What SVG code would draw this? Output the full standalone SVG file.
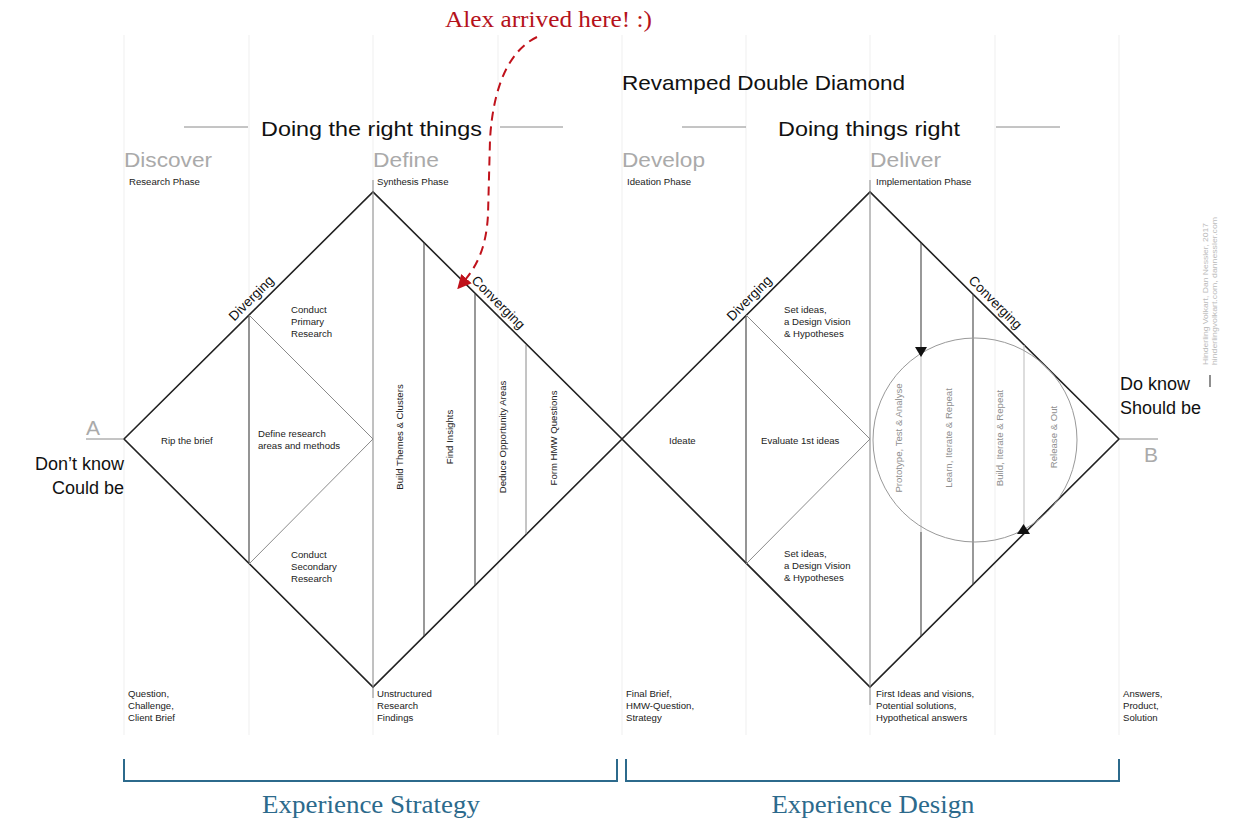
<svg xmlns="http://www.w3.org/2000/svg" width="1246" height="825" viewBox="0 0 1246 825">
<defs>
<style>
.grid{stroke:#efefef;stroke-width:1;fill:none}
.edge{stroke:#222;stroke-width:1.6;fill:none}
.ln{stroke:#444;stroke-width:1.1;fill:none}
.lt{stroke:#8a8a8a;stroke-width:1;fill:none}
.lg{stroke:#bbb;stroke-width:1;fill:none}
.hd{font-family:"Liberation Sans",Arial,sans-serif;font-size:21px;fill:#aaa}
.big{font-family:"Liberation Sans",Arial,sans-serif;font-size:21px;fill:#111}
.mid{font-family:"Liberation Sans",Arial,sans-serif;font-size:18px;fill:#111}
.sm{font-family:"Liberation Sans",Arial,sans-serif;font-size:9.6px;fill:#222}
.smg{font-family:"Liberation Sans",Arial,sans-serif;font-size:9.6px;fill:#8f8f8f}
.dg{font-family:"Liberation Sans",Arial,sans-serif;font-size:13.5px;fill:#111}
.cr{font-family:"Liberation Sans",Arial,sans-serif;font-size:6.5px;fill:#bbb}
.serifR{font-family:"Liberation Serif","Times New Roman",serif;font-size:24px;fill:#b5121b}
.serifB{font-family:"Liberation Serif","Times New Roman",serif;font-size:25px;fill:#2c6a8c}
.br{stroke:#2c6a8c;stroke-width:2;fill:none}
</style>
<marker id="redArrow" viewBox="0 0 10 10" refX="7" refY="5" markerWidth="7" markerHeight="7" orient="auto" markerUnits="strokeWidth">
<path d="M0,0 L10,5 L0,10 z" fill="#c0121b"/>
</marker>
</defs>
<rect width="1246" height="825" fill="#fff"/>

<g id="grid">
<line class="grid" x1="124" y1="35" x2="124" y2="735"/>
<line class="grid" x1="249" y1="35" x2="249" y2="735"/>
<line class="grid" x1="373" y1="35" x2="373" y2="735"/>
<line class="grid" x1="498" y1="35" x2="498" y2="735"/>
<line class="grid" x1="622" y1="35" x2="622" y2="735"/>
<line class="grid" x1="746" y1="35" x2="746" y2="735"/>
<line class="grid" x1="870" y1="35" x2="870" y2="735"/>
<line class="grid" x1="995" y1="35" x2="995" y2="735"/>
<line class="grid" x1="1119" y1="35" x2="1119" y2="735"/>
</g>

<g id="titles">
<text class="serifR" x="445" y="27" textLength="207" lengthAdjust="spacingAndGlyphs">Alex arrived here! :)</text>
<text class="big" x="622" y="90" textLength="283" lengthAdjust="spacingAndGlyphs">Revamped Double Diamond</text>
<line class="lt" x1="184" y1="127" x2="248" y2="127"/>
<line class="lt" x1="500" y1="127" x2="563" y2="127"/>
<text class="big" x="261" y="136" textLength="221" lengthAdjust="spacingAndGlyphs">Doing the right things</text>
<line class="lt" x1="682" y1="127" x2="746" y2="127"/>
<line class="lt" x1="996" y1="127" x2="1060" y2="127"/>
<text class="big" x="778" y="136" textLength="182" lengthAdjust="spacingAndGlyphs">Doing things right</text>
</g>

<g id="phases">
<text class="hd" x="124" y="167" textLength="88" lengthAdjust="spacingAndGlyphs">Discover</text>
<text class="sm" x="129" y="185">Research Phase</text>
<text class="hd" x="373" y="167" textLength="66" lengthAdjust="spacingAndGlyphs">Define</text>
<text class="sm" x="377" y="185">Synthesis Phase</text>
<text class="hd" x="622" y="167" textLength="83" lengthAdjust="spacingAndGlyphs">Develop</text>
<text class="sm" x="627" y="185">Ideation Phase</text>
<text class="hd" x="870" y="167" textLength="71" lengthAdjust="spacingAndGlyphs">Deliver</text>
<text class="sm" x="876" y="185">Implementation Phase</text>
</g>

<g id="diamond-1">
<polygon class="edge" points="124,439 373,192 622,439 373,687"/>
<line class="lt" x1="86" y1="439" x2="124" y2="439"/>
<line class="ln" x1="249" y1="315" x2="249" y2="564"/>
<polyline class="lt" points="249,315 373,439 249,564"/>
<line class="lt" x1="373" y1="180" x2="373" y2="698"/>
<line class="ln" x1="424" y1="243" x2="424" y2="636"/>
<line class="ln" x1="475" y1="294" x2="475" y2="585"/>
<line class="lt" x1="526" y1="345" x2="526" y2="534"/>
<text class="dg" transform="translate(258,305) rotate(-45)" y="-5" text-anchor="middle">Diverging</text>
<text class="dg" transform="translate(491,310) rotate(45)" y="-6" text-anchor="middle">Converging</text>
<text class="sm" x="291" y="313">Conduct</text>
<text class="sm" x="291" y="325">Primary</text>
<text class="sm" x="291" y="337">Research</text>
<text class="sm" x="161" y="444">Rip the brief</text>
<text class="sm" x="258" y="437">Define research</text>
<text class="sm" x="258" y="449">areas and methods</text>
<text class="sm" x="291" y="558">Conduct</text>
<text class="sm" x="291" y="570">Secondary</text>
<text class="sm" x="291" y="582">Research</text>
<text class="sm" transform="translate(403,437) rotate(-90)" text-anchor="middle">Build Themes &amp; Clusters</text>
<text class="sm" transform="translate(453,437) rotate(-90)" text-anchor="middle">Find Insights</text>
<text class="sm" transform="translate(506,437) rotate(-90)" text-anchor="middle">Deduce Opportunity Areas</text>
<text class="sm" transform="translate(557,438) rotate(-90)" text-anchor="middle">Form HMW Questions</text>
</g>

<g id="diamond-2">
<polygon class="edge" points="622,439 870,192 1119,439 870,687"/>
<line class="lt" x1="1119" y1="439" x2="1158" y2="439"/>
<line class="ln" x1="746" y1="315" x2="746" y2="564"/>
<polyline class="lt" points="746,315 870,439 746,564"/>
<line class="lt" x1="870" y1="180" x2="870" y2="705"/>
<line class="ln" x1="921" y1="243" x2="921" y2="352"/>
<line class="lg" x1="921" y1="352" x2="921" y2="532"/>
<line class="ln" x1="921" y1="532" x2="921" y2="636"/>
<line class="ln" x1="973" y1="294" x2="973" y2="585"/>
<line class="lg" x1="1024" y1="345" x2="1024" y2="534"/>
<circle cx="975" cy="440" r="102" fill="none" stroke="#999" stroke-width="1"/>
<polygon points="915,347 927,347 921,357" fill="#111"/>
<polygon points="1017,534 1030,534 1023.5,524" fill="#111"/>
<text class="dg" transform="translate(756,305) rotate(-45)" y="-5" text-anchor="middle">Diverging</text>
<text class="dg" transform="translate(988,310) rotate(45)" y="-6" text-anchor="middle">Converging</text>
<text class="sm" x="669" y="444">Ideate</text>
<text class="sm" x="761" y="444">Evaluate 1st ideas</text>
<text class="sm" x="784" y="313">Set ideas,</text>
<text class="sm" x="784" y="325">a Design Vision</text>
<text class="sm" x="784" y="337">&amp; Hypotheses</text>
<text class="sm" x="784" y="557">Set ideas,</text>
<text class="sm" x="784" y="569">a Design Vision</text>
<text class="sm" x="784" y="581">&amp; Hypotheses</text>
<text class="smg" transform="translate(902,438) rotate(-90)" text-anchor="middle">Prototype, Test &amp; Analyse</text>
<text class="smg" transform="translate(952,438) rotate(-90)" text-anchor="middle">Learn, Iterate &amp; Repeat</text>
<text class="smg" transform="translate(1003,438) rotate(-90)" text-anchor="middle">Build, Iterate &amp; Repeat</text>
<text class="smg" transform="translate(1057,437) rotate(-90)" text-anchor="middle">Release &amp; Out</text>
</g>

<g id="endpoints">
<text class="hd" x="86" y="435">A</text>
<text class="mid" x="124" y="470" text-anchor="end">Don’t know</text>
<text class="mid" x="124" y="494" text-anchor="end">Could be</text>
<text class="hd" x="1144" y="462">B</text>
<text class="mid" x="1120" y="390">Do know</text>
<text class="mid" x="1120" y="414">Should be</text>
<line x1="1210" y1="375" x2="1210" y2="387" stroke="#444" stroke-width="1.2"/>
<text class="cr" transform="translate(1208,365) rotate(-90)" textLength="142" lengthAdjust="spacingAndGlyphs">Hinderling Volkart, Dan Nessler, 2017</text>
<text class="cr" transform="translate(1217,365) rotate(-90)" textLength="148" lengthAdjust="spacingAndGlyphs">hinderlingvolkart.com, dannessler.com</text>
</g>

<g id="outputs">
<text class="sm" x="128" y="697">Question,</text>
<text class="sm" x="128" y="709">Challenge,</text>
<text class="sm" x="128" y="721">Client Brief</text>
<text class="sm" x="377" y="697">Unstructured</text>
<text class="sm" x="377" y="709">Research</text>
<text class="sm" x="377" y="721">Findings</text>
<text class="sm" x="626" y="697">Final Brief,</text>
<text class="sm" x="626" y="709">HMW-Question,</text>
<text class="sm" x="626" y="721">Strategy</text>
<text class="sm" x="876" y="697">First Ideas and visions,</text>
<text class="sm" x="876" y="709">Potential solutions,</text>
<text class="sm" x="876" y="721">Hypothetical answers</text>
<text class="sm" x="1123" y="697">Answers,</text>
<text class="sm" x="1123" y="709">Product,</text>
<text class="sm" x="1123" y="721">Solution</text>
</g>

<g id="brackets">
<polyline class="br" points="124,759 124,781 617,781 617,759"/>
<polyline class="br" points="626,759 626,781 1119,781 1119,759"/>
<text class="serifB" x="371" y="813" text-anchor="middle" textLength="218" lengthAdjust="spacingAndGlyphs">Experience Strategy</text>
<text class="serifB" x="873" y="813" text-anchor="middle" textLength="203" lengthAdjust="spacingAndGlyphs">Experience Design</text>
</g>

<g id="connectors">
<path d="M537,37 C510,50 493,85 490,140 L488,215 C486,250 476,268 460,286" fill="none" stroke="#c0121b" stroke-width="2" stroke-dasharray="9 6" marker-end="url(#redArrow)"/>
</g>
</svg>
